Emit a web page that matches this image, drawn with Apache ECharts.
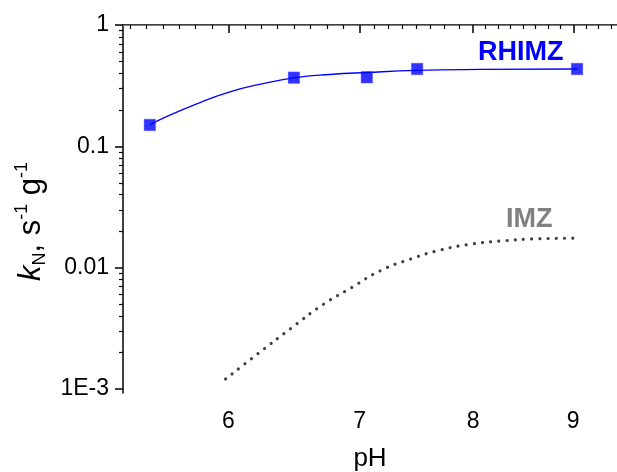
<!DOCTYPE html>
<html>
<head>
<meta charset="utf-8">
<script src="https://cdn.jsdelivr.net/npm/echarts@6/dist/echarts.min.js"></script>
<style>
  html, body { margin: 0; padding: 0; background: #fff; }
  #chart { width: 617px; height: 472px; }
</style>
</head>
<body>
<div id="chart"></div>
<script>
// pH / kN values
const phFit = [5.47, 5.55, 5.78, 6.01, 6.25, 6.48, 6.76, 7.06, 7.49, 8.07, 9.04]
const kFit = [0.150, 0.169, 0.224, 0.281, 0.329, 0.367, 0.391, 0.406, 0.422, 0.430, 0.434]
const phRhimz = [5.47, 6.48, 7.06, 7.49, 9.04]
const kRhimz = [0.150, 0.368, 0.371, 0.434, 0.434]
const phImz = [5.98, 6.21, 6.46, 6.71, 6.94, 7.17, 7.43, 7.70, 8.00, 8.31, 8.62, 9.05]
const kImz = [0.00121, 0.00195, 0.00318, 0.00500, 0.00690, 0.00941, 0.01175, 0.0140, 0.0157, 0.0167, 0.0173, 0.0175]

const xTicks = [6, 7, 8, 9]
const xTickLabels = ['6', '7', '8', '9']
const yTicks = [0.001, 0.01, 0.1, 1]
const yTickLabels = ['1E-3', '0.01', '0.1', '1']

const xMin = 5.3
const xMax = 9.475
const yMin = 0.000927
const yMax = 1

const lg = Math.log10
const font = 'Arial, "Liberation Sans", sans-serif'

// both axes are log10 scales, drawn as value axes on log10 of the data
function pairs(xs, ys) {
  return xs.map((x, i) => [lg(x), lg(ys[i])])
}
function pickLabel(ticks, labels, v) {
  const i = ticks.findIndex(t => Math.abs(lg(t) - v) < 1e-6)
  return i < 0 ? '' : '{t|' + labels[i] + '}'
}

// minor ticks: 8 parts per major step on the log axis
const xMinor = []
for (let i = 0; i < xTicks.length; i++) {
  const a = lg(xTicks[i])
  const b = i + 1 < xTicks.length ? lg(xTicks[i + 1]) : a + (a - lg(xTicks[i - 1]))
  for (let k = 1; k < 8; k++) xMinor.push(a + (b - a) * k / 8)
}
const firstStep = (lg(xTicks[1]) - lg(xTicks[0])) / 8
for (let k = 1; k < 8; k++) xMinor.push(lg(xTicks[0]) - firstStep * k)

const yMinor = []
for (let d = -4; d < 0; d++) {
  for (let m = 2; m <= 9; m++) yMinor.push(d + lg(m))
}

const chart = echarts.init(document.getElementById('chart'))
const black = '#000'
const tickText = { t: { fontFamily: font, fontSize: 23, color: black } }

chart.setOption({
  animation: false,
  grid: { left: 123, right: 0, top: 25, bottom: 79, containLabel: false, outerBoundsMode: 'none' },
  xAxis: [{
    type: 'value',
    min: lg(xMin),
    max: lg(xMax),
    name: 'pH',
    nameLocation: 'middle',
    nameGap: 53,
    nameTextStyle: { fontFamily: font, fontSize: 26, color: black },
    axisLine: { lineStyle: { color: black, width: 1.5 } },
    axisTick: { customValues: xTicks.map(lg), length: 8, lineStyle: { color: black, width: 1.5 } },
    axisLabel: {
      customValues: xTicks.map(lg),
      margin: 17,
      rich: tickText,
      formatter: v => pickLabel(xTicks, xTickLabels, v)
    },
    splitLine: { show: false }
  }, {
    type: 'value',
    min: lg(xMin),
    max: lg(xMax),
    position: 'bottom',
    axisLine: { show: false },
    axisTick: { customValues: xMinor, length: 4, lineStyle: { color: black, width: 1.2 } },
    axisLabel: { show: false },
    splitLine: { show: false }
  }, {
    type: 'value',
    min: lg(xMin),
    max: lg(xMax),
    position: 'top',
    axisLine: { lineStyle: { color: '#808080', width: 1 } },
    axisTick: { show: false },
    axisLabel: { show: false },
    splitLine: { show: false }
  }],
  yAxis: [{
    type: 'value',
    min: lg(yMin),
    max: lg(yMax),
    name: '{k|k}{sub|N}{n|, s}{sup|-1}{n| g}{sup|-1}',
    nameLocation: 'middle',
    nameGap: 72,
    nameTextStyle: {
      fontFamily: font,
      color: black,
      padding: [0, 25, 0, 0],
      rich: {
        k: { fontFamily: font, fontSize: 31, fontStyle: 'italic', lineHeight: 36, verticalAlign: 'middle', color: black },
        n: { fontFamily: font, fontSize: 31, lineHeight: 36, verticalAlign: 'middle', color: black },
        sub: { fontFamily: font, fontSize: 18, lineHeight: 18, verticalAlign: 'bottom', color: black },
        sup: { fontFamily: font, fontSize: 18, lineHeight: 18, verticalAlign: 'top', color: black }
      }
    },
    axisLine: { lineStyle: { color: black, width: 1.5 } },
    axisTick: { customValues: yTicks.map(lg), length: 8, lineStyle: { color: black, width: 1.5 } },
    axisLabel: {
      customValues: yTicks.map(lg),
      margin: 14,
      rich: tickText,
      formatter: v => pickLabel(yTicks, yTickLabels, v)
    },
    splitLine: { show: false }
  }, {
    type: 'value',
    min: lg(yMin),
    max: lg(yMax),
    position: 'left',
    axisLine: { show: false },
    axisTick: { customValues: yMinor, length: 4, lineStyle: { color: black, width: 1.2 } },
    axisLabel: { show: false },
    splitLine: { show: false }
  }],
  series: [{
    name: 'RHIMZ fit',
    type: 'line',
    smooth: true,
    showSymbol: false,
    data: pairs(phFit, kFit),
    lineStyle: { color: '#0000ff', width: 1.3 },
    z: 2
  }, {
    name: 'RHIMZ',
    type: 'scatter',
    symbol: 'rect',
    symbolSize: 11.5,
    data: pairs(phRhimz, kRhimz),
    itemStyle: { color: '#0000ff', borderColor: '#4d4dff', borderWidth: 0.5 },
    z: 3
  }, {
    name: 'IMZ',
    type: 'line',
    smooth: true,
    showSymbol: false,
    data: pairs(phImz, kImz),
    lineStyle: { color: '#404040', width: 3.2, type: [0.01, 8.2], cap: 'round' }
  }],
  graphic: [{
    type: 'text',
    left: 478,
    top: 39,
    style: { text: 'RHIMZ', font: 'bold 27px ' + font, fill: '#0000ff' }
  }, {
    type: 'text',
    left: 506,
    top: 206,
    style: { text: 'IMZ', font: 'bold 27px ' + font, fill: '#808080' }
  }]
})
</script>
</body>
</html>
